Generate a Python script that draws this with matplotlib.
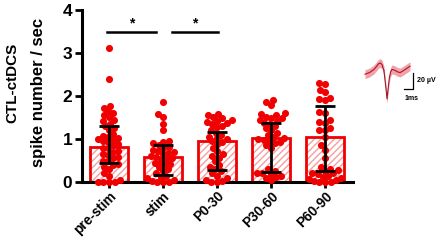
import numpy as np
import matplotlib
matplotlib.use("Agg")
import matplotlib.pyplot as plt

plt.rcParams['font.family'] = ['Liberation Sans', 'DejaVu Sans']
plt.rcParams['font.weight'] = 'bold'
plt.rcParams['hatch.linewidth'] = 1.0

categories = ["pre-stim", "stim", "P0-30", "P30-60", "P60-90"]
means = [0.81, 0.58, 0.95, 1.03, 1.05]
err_low = [0.45, 0.16, 0.28, 0.24, 0.26]
err_high = [1.31, 0.86, 1.16, 1.37, 1.77]

pre_stim = [3.12, 2.4, 1.77, 1.72, 1.65, 1.6, 1.55, 1.52, 1.45, 1.42, 1.35, 1.3, 1.25, 1.2,
            1.12, 1.08, 1.05, 1.03, 1.0, 0.98, 0.95, 0.92, 0.88, 0.85, 0.8, 0.78, 0.72, 0.7,
            0.65, 0.62, 0.58, 0.55, 0.5, 0.48, 0.42, 0.4, 0.35, 0.3, 0.22, 0.15, 0.05, 0.0,
            0.0, 0.0, 0.0]
stim = [1.87, 1.58, 1.52, 1.35, 1.2, 0.95, 0.92, 0.9, 0.85, 0.82, 0.78, 0.75, 0.72, 0.7,
        0.68, 0.65, 0.6, 0.58, 0.55, 0.52, 0.5, 0.45, 0.42, 0.4, 0.35, 0.3, 0.25, 0.2, 0.15,
        0.12, 0.1, 0.05, 0.03, 0.0, 0.0, 0.0]
p0_30 = [1.58, 1.55, 1.52, 1.48, 1.45, 1.42, 1.4, 1.38, 1.35, 1.3, 1.28, 1.22, 1.15, 1.1,
         1.05, 1.02, 1.0, 0.95, 0.92, 0.88, 0.8, 0.72, 0.65, 0.6, 0.55, 0.48, 0.4, 0.35, 0.3,
         0.25, 0.2, 0.15, 0.1, 0.05, 0.02, 0.0, 0.0]
p30_60 = [1.9, 1.85, 1.78, 1.6, 1.58, 1.55, 1.52, 1.5, 1.48, 1.45, 1.42, 1.38, 1.35, 1.3,
          1.25, 1.2, 1.15, 1.1, 1.05, 1.02, 1.0, 0.98, 0.95, 0.92, 0.9, 0.85, 0.8, 0.3, 0.25,
          0.22, 0.2, 0.18, 0.15, 0.12, 0.1, 0.05]
p60_90 = [2.3, 2.28, 2.15, 2.1, 1.95, 1.92, 1.9, 1.62, 1.6, 1.45, 1.4, 1.38, 1.25, 1.22, 1.2,
          1.05, 0.85, 0.75, 0.55, 0.35, 0.3, 0.28, 0.25, 0.22, 0.2, 0.18, 0.15, 0.12, 0.1,
          0.08, 0.05, 0.03, 0.0, 0.0, 0.0]
groups = [pre_stim, stim, p0_30, p30_60, p60_90]

sig_pairs = [(0, 1), (1, 2)]
sig_level = 3.5

# waveform inset (ms, µV)
wave_t = [0.0, 0.5, 1.0, 1.3, 1.5, 1.7, 1.9, 2.0, 2.1, 2.2, 2.35, 2.45, 2.55, 2.7, 2.85,
          3.0, 3.3, 3.6, 3.9, 4.2, 4.6, 5.0]
wave_v = [0, 2, 6, 10, 13, 14, 12, 8, 5, -5, -20, -31, -20, -5, 3, 6, 5, 3, 2, 4, 7, 10]
wave_sd = 5.5

W, H = 440, 241
fig = plt.figure(figsize=(W / 100, H / 100), dpi=100)
ax_box = [82 / W, 59 / H, 271 / W, 172 / H]
ax = fig.add_axes(ax_box)
xlim = (-0.5, 4.52)
ylim = (0, 4)
ax.set_xlim(*xlim)
ax.set_ylim(*ylim)
px_per_x = ax_box[2] * W / (xlim[1] - xlim[0])
px_per_y = ax_box[3] * H / (ylim[1] - ylim[0])


def swarm_offsets(values, d):
    """Beeswarm layout in pixel space; returns x offsets in pixels."""
    vals = np.asarray(values, float) * px_per_y
    order = np.argsort(vals)
    placed = []
    out = np.zeros(len(vals))
    for i in order:
        y = vals[i]
        cands = [0.0]
        for (px, py) in placed:
            dy = abs(py - y)
            if dy < d:
                dx = np.sqrt(d * d - dy * dy)
                cands += [px + dx, px - dx]
        cands = sorted(cands, key=lambda c: (abs(c), c))
        for c in cands:
            ok = all((c - px) ** 2 + (y - py) ** 2 >= d * d - 1e-6 for (px, py) in placed)
            if ok:
                break
        placed.append((c, y))
        out[i] = c
    return out


red = "#f00000"
x = np.arange(len(categories))
ax.bar(x, means, width=0.7, color="white", edgecolor="#f5a0a0", hatch="/////",
       linewidth=0, zorder=1)
ax.bar(x, means, width=0.7, fill=False, edgecolor=red, linewidth=2, zorder=2)

for i, g in enumerate(groups):
    offs = swarm_offsets(g, 5.6) / px_per_x
    ax.scatter(i + offs, g, s=26, color=red, linewidths=0, zorder=3, clip_on=False)

yerr = np.array([np.array(means) - np.array(err_low), np.array(err_high) - np.array(means)])
ax.errorbar(x, means, yerr=yerr, fmt="none", ecolor="black", elinewidth=2, capsize=7,
            capthick=2, zorder=4, clip_on=False)

sig_spans = [(-0.04, -0.13), (0.17, 0.02)]
for (a, b), (oa, ob) in zip(sig_pairs, sig_spans):
    x0, x1 = a + oa, b + ob
    ax.plot([x0, x1], [sig_level, sig_level], color="black", lw=1.8, clip_on=False)
    ax.text((x0 + x1) / 2, sig_level + 0.02, "*", ha="center", va="bottom",
            fontsize=10, fontweight="bold")

ax.set_yticks([0, 1, 2, 3, 4])
ax.set_xticks(x)
ax.set_xticklabels(categories, rotation=45, ha="right", rotation_mode="anchor")
for s in ["top", "right"]:
    ax.spines[s].set_visible(False)
for s in ["left", "bottom"]:
    ax.spines[s].set_linewidth(2.2)
ax.tick_params(axis="y", labelsize=12.5, width=2, length=5, pad=2)
ax.tick_params(axis="x", labelsize=9.8, width=2, length=4, pad=1)
for lab in ax.get_xticklabels():
    lab.set_fontweight("bold")
    lab.set_x(lab.get_position()[0])
for lab in ax.get_yticklabels():
    lab.set_fontweight("bold")

# y label (two lines)
fig.text(12.5 / W, 1 - 83 / H, "CTL-ctDCS", rotation=90, ha="center", va="center",
         fontsize=11, fontweight="bold")
fig.text(38.5 / W, 1 - 92 / H, "spike number / sec", rotation=90, ha="center",
         va="center", fontsize=12, fontweight="bold")

# inset
iax = fig.add_axes([363 / W, (H - 105) / H, 67 / W, 55 / H])
wt = np.array(wave_t)
wv = np.array(wave_v)
iax.fill_between(wt, wv - wave_sd, wv + wave_sd, color="#f4a0a8", lw=0)
iax.plot(wt, wv, color="#a01828", lw=0.8)
iax.plot([4.33, 5.33, 5.33], [-18.5, -18.5, 1.5], color="black", lw=0.9)
iax.text(5.75, -8.5, "20 µV", fontsize=5, fontweight="bold", va="center", ha="left")
iax.text(4.35, -31, "1ms", fontsize=5, fontweight="bold", va="center", ha="left")
iax.set_xlim(-0.22, 7.22)
iax.set_ylim(-38.5, 30.25)
iax.axis("off")

fig.savefig("out.png", dpi=100)
